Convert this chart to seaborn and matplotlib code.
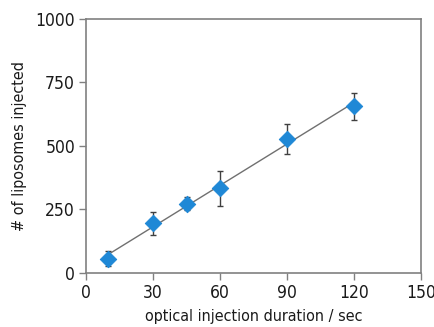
import numpy as np
import matplotlib
matplotlib.use("Agg")
import matplotlib.pyplot as plt
import seaborn as sns

# optical injection duration (sec) vs number of liposomes injected
duration = [10, 30, 45, 60, 90, 120]
injected = [56, 195, 272, 332, 528, 656]
err = [28, 46, 25, 68, 60, 53]

sns.set_style("white")
plt.rcParams['font.family'] = ['DejaVu Sans']
plt.rcParams['font.stretch'] = 'condensed'

fig = plt.figure(figsize=(4.35, 3.27), dpi=100)
ax = fig.add_axes([0.198, 0.166, 0.77, 0.776])

# linear fit through the points
k, b = np.polyfit(duration, injected, 1)
xs = np.array([duration[0], duration[-1]])
ax.plot(xs, k * xs + b, color="#707070", lw=1.0, zorder=1)

ax.errorbar(duration, injected, yerr=err, fmt="none", ecolor="#404040",
            elinewidth=1.0, capsize=2, capthick=1.0, zorder=2)
sns.scatterplot(x=duration, y=injected, marker="D", s=70, color="#1f88d6",
                edgecolor="#1f88d6", ax=ax, zorder=3)

ax.set_xlim(0, 150)
ax.set_ylim(0, 1000)
ax.set_xticks([0, 30, 60, 90, 120, 150])
ax.set_yticks([0, 250, 500, 750, 1000])
ax.tick_params(bottom=True, left=True, direction="out", length=5, width=1,
               color="#808080", labelcolor="#1a1a1a", labelsize=12.5, pad=3)
for s in ax.spines.values():
    s.set_color("#808080")
    s.set_linewidth(1.2)

ax.set_xlabel("optical injection duration / sec", fontsize=11.5, color="#1a1a1a", labelpad=5)
ax.set_ylabel("# of liposomes injected", fontsize=11.5, color="#1a1a1a", labelpad=6)

fig.savefig("out.png", dpi=100)
